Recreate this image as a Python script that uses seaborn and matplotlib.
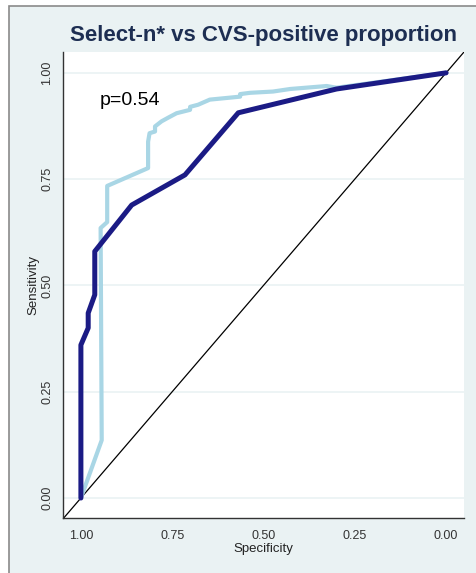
import seaborn as sns
import matplotlib.pyplot as plt
from matplotlib.patches import Rectangle
import numpy as np
import pandas as pd

# ROC curves (specificity, sensitivity)
spec_select = [1.0, 1.0, 0.98, 0.98, 0.962, 0.962, 0.861, 0.715, 0.569, 0.30, 0.0]
sens_select = [0.0, 0.36, 0.40, 0.435, 0.478, 0.58, 0.689, 0.76, 0.906, 0.962, 1.0]

spec_cvs = [1.0, 0.943, 0.946, 0.937, 0.928, 0.928, 0.816, 0.816, 0.812, 0.797, 0.797,
            0.779, 0.76, 0.738, 0.701, 0.701, 0.679, 0.647, 0.564, 0.564, 0.537,
            0.474, 0.427, 0.327, 0.30, 0.0]
sens_cvs = [0.0, 0.136, 0.635, 0.642, 0.649, 0.734, 0.776, 0.838, 0.858, 0.862, 0.874,
            0.886, 0.895, 0.905, 0.913, 0.92, 0.925, 0.937, 0.944, 0.95, 0.953,
            0.956, 0.962, 0.969, 0.965, 1.0]

tick_vals = [0.0, 0.25, 0.5, 0.75, 1.0]
tick_labels = ["0.00", "0.25", "0.50", "0.75", "1.00"]
p_text = "p=0.54"

bg = "#eaf2f3"
sns.set_style("white")
plt.rcParams['font.family'] = ['Liberation Sans', 'DejaVu Sans']

fig = plt.figure(figsize=(4.76, 5.73), dpi=100, facecolor="white")
# outer light panel with grey frame (top and left visible)
frame = Rectangle((8.5 / 476, -0.02), 1.0, 1.02 - 5.5 / 573,
                  transform=fig.transFigure, facecolor=bg,
                  edgecolor="#8a8a8a", linewidth=1.2, zorder=-5)
fig.add_artist(frame)

ax = fig.add_axes([63 / 476, 1 - 518 / 573, (464 - 63) / 476, (518 - 52) / 573])
ax.set_facecolor("white")

df_cvs = pd.DataFrame({"spec": spec_cvs, "sens": sens_cvs})
df_sel = pd.DataFrame({"spec": spec_select, "sens": sens_select})

for v in tick_vals:
    ax.axhline(v, color=bg, linewidth=1.2, zorder=0)

ax.plot([1.049, -0.049], [-0.049, 1.049], color="black", linewidth=0.9, zorder=1)
sns.lineplot(data=df_cvs, x="spec", y="sens", sort=False, estimator=None,
             color="#a9d6e5", linewidth=3.0, ax=ax, zorder=2)
sns.lineplot(data=df_sel, x="spec", y="sens", sort=False, estimator=None,
             color="#1b1b85", linewidth=3.6, ax=ax, zorder=3)

ax.set_xlim(1.049, -0.049)
ax.set_ylim(-0.047, 1.049)
ax.set_xticks(tick_vals, labels=tick_labels, fontsize=9)
ax.set_yticks(tick_vals, labels=tick_labels, fontsize=9, rotation=90, va="center")
ax.tick_params(axis="both", direction="out", length=5, width=1, color="#333333",
               labelcolor="#333333")
ax.tick_params(axis="y", pad=2)
for s in ["top", "right"]:
    ax.spines[s].set_visible(False)
for s in ["left", "bottom"]:
    ax.spines[s].set_color("#333333")
    ax.spines[s].set_linewidth(1)

ax.set_xlabel("Specificity", fontsize=9.5, color="#222222", labelpad=1)
ax.set_ylabel("Sensitivity", fontsize=9.5, color="#222222", labelpad=1)
ax.text(0.948, 0.936, p_text, fontsize=14, color="black", va="center", ha="left")

fig.text(263 / 476, 1 - 35 / 573, "Select-n* vs CVS-positive proportion", ha="center",
         va="center", fontsize=16, fontweight="bold", color="#1d2e52")

fig.savefig("out.png", dpi=100, facecolor=fig.get_facecolor())
